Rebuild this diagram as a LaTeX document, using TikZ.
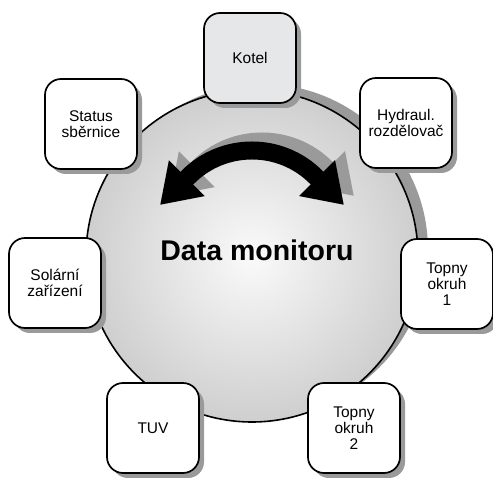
\documentclass[tikz,border=0pt]{standalone}
\usepackage{fontspec}
\setmainfont{Liberation Sans}
\usetikzlibrary{shadows,arrows.meta}
\definecolor{kotelgray}{HTML}{E6E7E8}
\definecolor{shadowgray}{HTML}{9A9A9A}

\begin{document}
\begin{tikzpicture}[x=1pt, y=-1pt,
    unitbox/.style={draw=black, line width=1.7pt, rounded corners=16pt, fill=white,
      minimum width=92pt, minimum height=90pt, inner sep=1pt, align=center,
      font=\fontsize{15.5}{16}\selectfont,
      drop shadow={shadow xshift=5pt, shadow yshift=-5pt, fill=shadowgray, opacity=1}},
    swing/.style={line width=18pt, {Triangle[length=38pt,width=48pt]}-{Triangle[length=38pt,width=48pt]}}]
  \useasboundingbox (0,0) rectangle (493,478);

  % monitor disc
  \node[circle, minimum size=332pt, inner sep=0pt, draw=black, line width=1.6pt,
    inner color=gray!4, outer color=gray!38,
    drop shadow={shadow xshift=10pt, shadow yshift=6pt, fill=shadowgray, opacity=1}] (hub) at (252,256) {};

  % double arrow, shadow first
  \draw[swing, shadowgray] (170,196) -- ++(28,-28) arc[start angle=225, end angle=315, radius=90.5] -- ++(28,28);
  \draw[swing, black] (160,205) -- ++(28,-28) arc[start angle=225, end angle=315, radius=90.5] -- ++(28,28);

  \node[font=\bfseries\fontsize{28.5}{30}\selectfont, inner sep=0pt] (title) at (257,250) {Data monitoru};

  % the seven units
  \node[unitbox, fill=kotelgray] (kotel) at (250,58) {Kotel};
  \node[unitbox] (hydraul) at (406,123) {Hydraul.\\rozdělovač};
  \node[unitbox] (status) at (91,124) {Status\\sběrnice};
  \node[unitbox] (solar) at (55,283) {Solární\\zařízení};
  \node[unitbox] (okruh1) at (447,284) {Topny\\okruh\\1};
  \node[unitbox] (tuv) at (153,428) {TUV};
  \node[unitbox] (okruh2) at (354,428) {Topny\\okruh\\2};
\end{tikzpicture}
\end{document}
